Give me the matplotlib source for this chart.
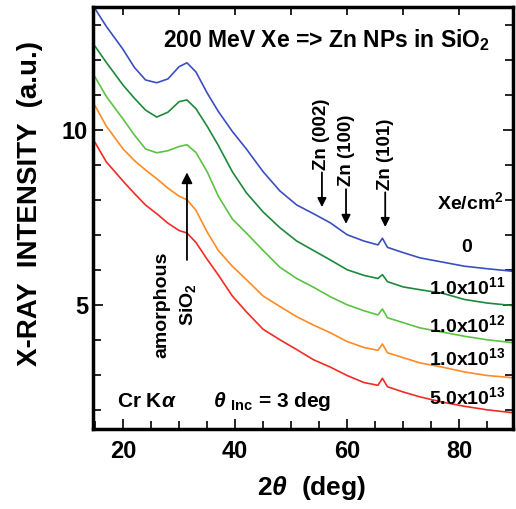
import matplotlib
matplotlib.use("Agg")
import matplotlib.pyplot as plt
from matplotlib.ticker import MultipleLocator

plt.rcParams['font.family'] = ['Liberation Sans', 'DejaVu Sans']
plt.rcParams['font.weight'] = 'bold'
plt.rcParams['mathtext.fontset'] = 'custom'
plt.rcParams['mathtext.rm'] = 'Liberation Sans:bold'
plt.rcParams['mathtext.bf'] = 'Liberation Sans:bold'
plt.rcParams['mathtext.it'] = 'Liberation Sans:italic'

# ======================================================
# Data (2theta in deg, intensity a.u.)
# ======================================================

two_theta = [15, 17, 20, 22, 24, 26, 28, 30, 31.4, 33, 35, 37, 39.5, 42, 45, 48, 51, 54,
             57, 60, 63, 65.5, 66.3, 67.2, 70, 73, 77, 81, 85, 90]

y_0 = [13.45, 12.95, 12.29, 11.78, 11.42, 11.34, 11.45, 11.8, 11.91, 11.65, 11.05, 10.52,
       9.95, 9.45, 8.8, 8.25, 7.85, 7.6, 7.34, 7.0, 6.82, 6.71, 6.9, 6.64, 6.49, 6.34,
       6.22, 6.1, 6.03, 5.95]
y_1e11 = [12.38, 11.92, 11.27, 10.9, 10.56, 10.36, 10.5, 10.8, 10.85, 10.6, 10.1, 9.55,
          8.8, 8.2, 7.65, 7.2, 6.82, 6.55, 6.28, 6.0, 5.84, 5.75, 5.86, 5.66, 5.51, 5.43,
          5.33, 5.15, 5.05, 4.97]
y_1e12 = [11.5, 10.95, 10.3, 9.85, 9.45, 9.34, 9.4, 9.52, 9.57, 9.35, 8.8, 8.1, 7.45,
          7.05, 6.55, 6.07, 5.75, 5.5, 5.23, 5.0, 4.83, 4.71, 4.88, 4.63, 4.49, 4.34,
          4.22, 4.1, 4.0, 3.91]
y_1e13 = [10.68, 10.1, 9.45, 9.12, 8.85, 8.6, 8.33, 8.1, 8.0, 7.7, 7.08, 6.55, 6.1, 5.72,
          5.25, 4.95, 4.66, 4.42, 4.2, 3.95, 3.78, 3.7, 3.88, 3.63, 3.49, 3.34, 3.22,
          3.08, 2.98, 2.91]
y_5e13 = [9.63, 9.08, 8.53, 8.18, 7.85, 7.6, 7.33, 7.12, 7.05, 6.78, 6.3, 5.85, 5.25, 4.8,
          4.3, 4.0, 3.72, 3.43, 3.22, 2.98, 2.78, 2.7, 2.9, 2.66, 2.51, 2.37, 2.22, 2.1,
          2.0, 1.91]

colors = ['#3a4fc0', '#1c8a3a', '#5cc245', '#ff8a26', '#f02c24']
dose_labels = ['0', '1.0x10$^{11}$', '1.0x10$^{12}$', '1.0x10$^{13}$', '5.0x10$^{13}$']
dose_y = [6.63, 5.51, 4.43, 3.49, 2.37]

peak_labels = ['Zn (002)', 'Zn (100)', 'Zn (101)']
peak_x = [55.5, 59.8, 66.8]
peak_tip = [7.71, 7.23, 7.14]

# ======================================================
# Plot
# ======================================================

fig = plt.figure(figsize=(5.16, 5.09), dpi=100)
ax = fig.add_axes([0.180, 0.157, 0.814, 0.829])

for y, c in zip([y_0, y_1e11, y_1e12, y_1e13, y_5e13], colors):
    ax.plot(two_theta, y, color=c, lw=1.2)

ax.set_xlim(14.6, 89.6)
ax.set_ylim(1.45, 13.5)

ax.xaxis.set_major_locator(MultipleLocator(20))
ax.xaxis.set_minor_locator(MultipleLocator(5))
ax.yaxis.set_major_locator(MultipleLocator(5))
ax.yaxis.set_minor_locator(MultipleLocator(1))
ax.tick_params(which='both', direction='in', right=True, labelsize=17, width=1.2)
ax.tick_params(axis='x', pad=8)
ax.tick_params(which='major', length=7)
ax.tick_params(which='minor', length=6)
for s in ax.spines.values():
    s.set_linewidth(2.5)

top = ax.secondary_xaxis('top')
top.xaxis.set_major_locator(MultipleLocator(10))
top.tick_params(direction='in', length=6, width=1.2, labeltop=False)

ax.set_xlabel(r'2$\mathit{\theta}$  (deg)', fontsize=19, fontweight='bold', va='center')
ax.xaxis.set_label_coords(0.521, -0.14)
ax.set_ylabel('X-RAY  INTENSITY  (a.u.)', fontsize=20, fontweight='bold', va='center')
ax.yaxis.set_label_coords(-0.15, 0.535)

ax.text(56.4, 12.57, '200 MeV Xe => Zn NPs in SiO$_2$', fontsize=16.5,
        ha='center', va='center')

# amorphous SiO2 arrow
ax.annotate('', xy=(31.4, 8.86), xytext=(31.4, 6.2),
            arrowprops=dict(arrowstyle='-|>', color='black', lw=1.3, mutation_scale=16))
ax.text(27.0, 5.0, 'amorphous', rotation=90, fontsize=14, ha='center', va='center')
ax.text(31.6, 5.0, 'SiO$_2$', rotation=90, fontsize=14, ha='center', va='center')

# Zn peak markers
for lab, px, tip in zip(peak_labels, peak_x, peak_tip):
    ax.annotate('', xy=(px, tip), xytext=(px, tip + 1.15),
                arrowprops=dict(arrowstyle='-|>', color='black', lw=1.3, mutation_scale=13))
    ax.text(px, tip + 1.15, lab, rotation=90, fontsize=13.5, ha='center', va='bottom')

ax.text(82, 7.94, 'Xe/cm$^2$', fontsize=14, ha='center', va='center')
for lab, yy in zip(dose_labels, dose_y):
    ax.text(81.4, yy, lab, fontsize=14, ha='center', va='center')

ax.text(18.9, 2.23, r'Cr K$\mathit{\alpha}$', fontsize=15, ha='left', va='center')
ax.text(36.1, 2.23, r'$\mathit{\theta}$ $_{\mathrm{Inc}}$ = 3 deg', fontsize=15,
        ha='left', va='center')

fig.savefig('out.png', dpi=100)
